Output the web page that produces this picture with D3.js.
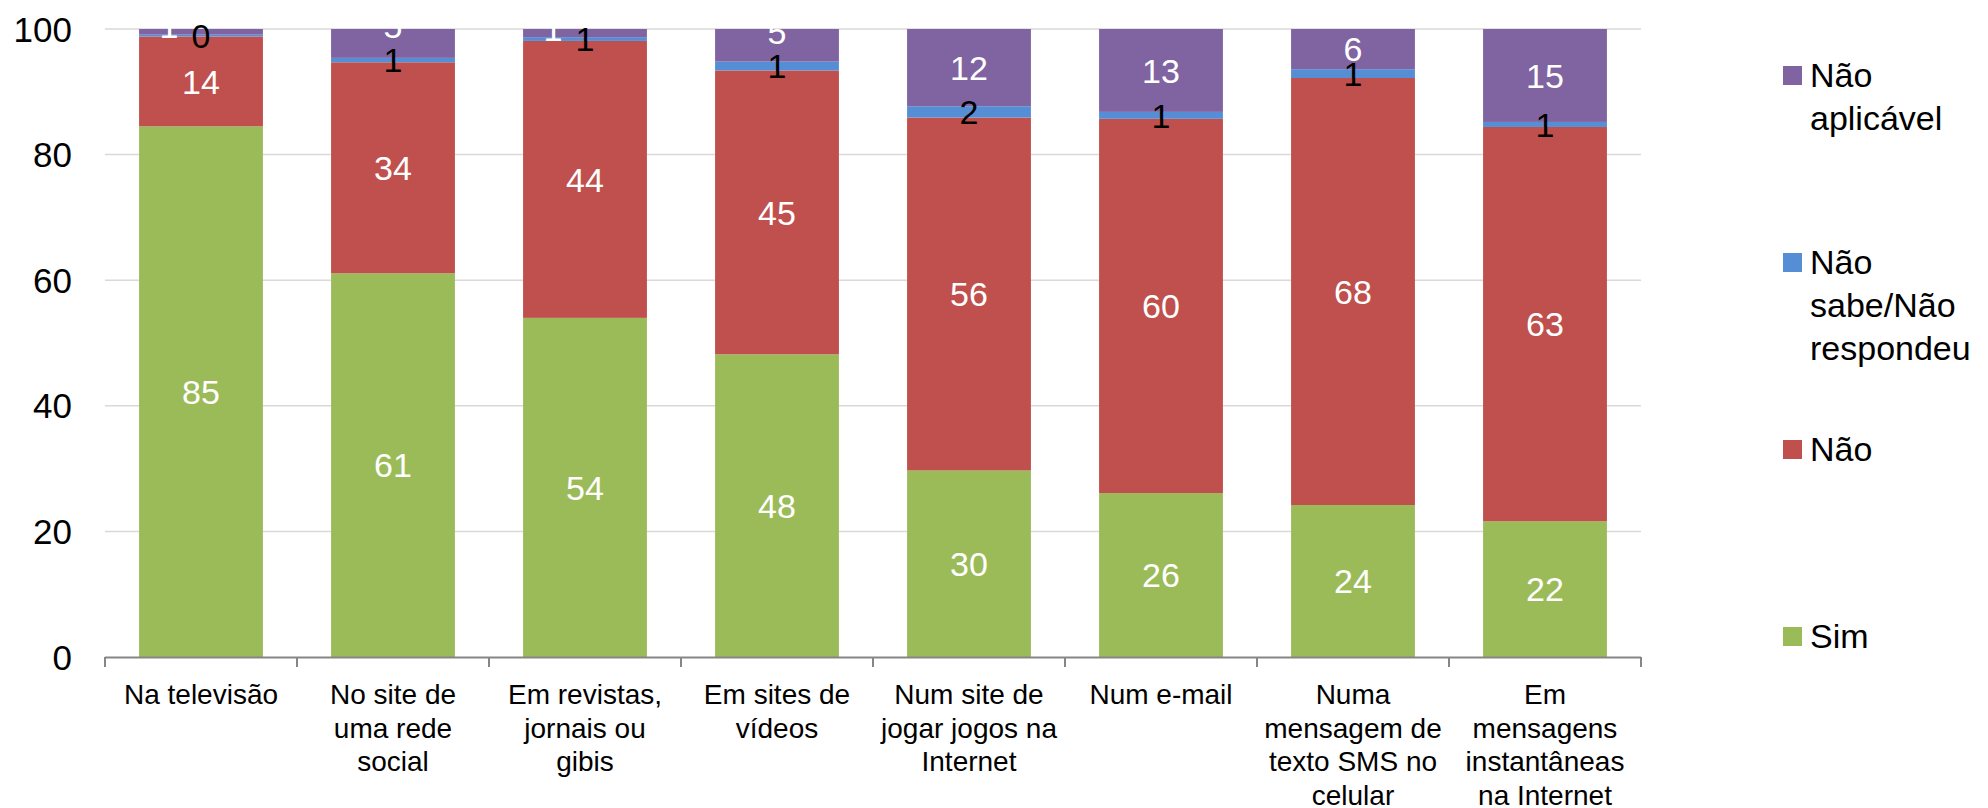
<!DOCTYPE html>
<html>
<head>
<meta charset="utf-8">
<script src="https://cdn.jsdelivr.net/npm/d3@7"></script>
<style>
  html, body { margin: 0; padding: 0; background: #fff; }
  svg { display: block; font-family: "Liberation Sans", Arial, sans-serif; }
</style>
</head>
<body>
<svg id="chart" width="1988" height="808"></svg>
<script>
// ---- data ----
const categories = [
  "Na televisão",
  "No site de\numa rede\nsocial",
  "Em revistas,\njornais ou\ngibis",
  "Em sites de\nvídeos",
  "Num site de\njogar jogos na\nInternet",
  "Num e-mail",
  "Numa\nmensagem de\ntexto SMS no\ncelular",
  "Em\nmensagens\ninstantâneas\nna Internet"
];
const seriesNames = ["Sim", "Não", "Não\nsabe/Não\nrespondeu", "Não\naplicável"];
const sim  = [84.5, 61.1, 54.0, 48.2, 29.7, 26.1, 24.2, 21.6];
const nao  = [14.3, 33.6, 44.1, 45.2, 56.2, 59.6, 68.0, 62.8];
const nsnr = [0.3, 0.7, 0.6, 1.4, 1.8, 1.1, 1.4, 0.8];
const na   = [0.9, 4.6, 1.3, 5.2, 12.3, 13.2, 6.4, 14.8];
const yTicks = [0, 20, 40, 60, 80, 100];

const seriesValues = [sim, nao, nsnr, na];
const colors = ["#9BBB59", "#C0504D", "#558ED5", "#8064A2"];
const labelColors = ["#fff", "#fff", "#000", "#fff"];

// ---- layout ----
const plot = { left: 105, right: 1641, top: 29, bottom: 657 };
const svg = d3.select("#chart");

const y = d3.scaleLinear().domain([0, 100]).range([plot.bottom, plot.top]);
const xBand = d3.scaleBand().domain(d3.range(categories.length))
  .range([plot.left, plot.right]).paddingInner(0.355).paddingOuter(0.1775);
const xCell = d3.scaleBand().domain(d3.range(categories.length))
  .range([plot.left, plot.right]).padding(0);

// gridlines
svg.append("g").selectAll("line").data(yTicks.filter(t => t > 0)).join("line")
  .attr("x1", plot.left).attr("x2", plot.right)
  .attr("y1", d => y(d)).attr("y2", d => y(d))
  .attr("stroke", "#D9D9D9").attr("stroke-width", 1.5);

// y tick labels
svg.append("g").selectAll("text").data(yTicks).join("text")
  .attr("x", 72).attr("y", d => y(d)).attr("dy", "0.36em")
  .attr("text-anchor", "end").attr("font-size", 35).attr("fill", "#000")
  .text(d => d);

// stack
const table = categories.map((c, i) => ({ i, s0: sim[i], s1: nao[i], s2: nsnr[i], s3: na[i] }));
const stack = d3.stack().keys(["s0", "s1", "s2", "s3"]);
const layers = stack(table);

const bars = svg.append("g");
layers.forEach((layer, k) => {
  bars.append("g").attr("fill", colors[k]).selectAll("rect").data(layer).join("rect")
    .attr("x", d => xBand(d.data.i))
    .attr("width", xBand.bandwidth())
    .attr("y", d => y(d[1]))
    .attr("height", d => y(d[0]) - y(d[1]));
});

// x axis line + ticks at category boundaries
const axisG = svg.append("g");
axisG.append("line").attr("x1", plot.left).attr("x2", plot.right)
  .attr("y1", plot.bottom + 0.5).attr("y2", plot.bottom + 0.5)
  .attr("stroke", "#868686").attr("stroke-width", 2);
const boundaries = d3.range(categories.length).map(i => xCell(i)).concat([plot.right]);
axisG.selectAll("line.tick").data(boundaries).join("line").attr("class", "tick")
  .attr("x1", d => d).attr("x2", d => d)
  .attr("y1", plot.bottom).attr("y2", plot.bottom + 10)
  .attr("stroke", "#868686").attr("stroke-width", 2);

// category labels
const catG = svg.append("g");
categories.forEach((c, i) => {
  const t = catG.append("text")
    .attr("x", xCell(i) + xCell.bandwidth() / 2)
    .attr("y", 704)
    .attr("text-anchor", "middle").attr("font-size", 28).attr("fill", "#000");
  c.split("\n").forEach((line, j) => {
    t.append("tspan").attr("x", xCell(i) + xCell.bandwidth() / 2)
      .attr("dy", j === 0 ? 0 : 33.5).text(line);
  });
});

// data labels
const labelG = svg.append("g");
table.forEach(row => {
  const i = row.i;
  const cx = xBand(i) + xBand.bandwidth() / 2;
  const pos = layers.map(layer => ({ x: cx, y: y((layer[i][0] + layer[i][1]) / 2) }));
  // Resolve overlap between "Não aplicável" and "Não sabe" labels
  const dist = pos[2].y - pos[3].y;
  if (dist < 23) {
    if (na[i] < 2) {
      pos[3].x = cx - 32;
      pos[3].y = pos[2].y - 10;
    } else {
      pos[3].y = pos[2].y - 34;
    }
  }
  seriesValues.forEach((vals, k) => {
    labelG.append("text")
      .attr("x", pos[k].x).attr("y", pos[k].y).attr("dy", "0.36em")
      .attr("text-anchor", "middle").attr("font-size", 34)
      .attr("fill", labelColors[k])
      .text(Math.round(vals[i]));
  });
});

// legend (top to bottom: Não aplicável, NS/NR, Não, Sim)
const legendOrder = [3, 2, 1, 0];
const legG = svg.append("g");
legendOrder.forEach((k, j) => {
  const top = 66 + j * 187;
  legG.append("rect").attr("x", 1783).attr("y", top).attr("width", 19).attr("height", 19)
    .attr("fill", colors[k]);
  const t = legG.append("text").attr("x", 1810).attr("y", top + 21)
    .attr("font-size", 34).attr("fill", "#000");
  seriesNames[k].split("\n").forEach((line, n) => {
    t.append("tspan").attr("x", 1810).attr("dy", n === 0 ? 0 : 43).text(line);
  });
});
</script>
</body>
</html>
